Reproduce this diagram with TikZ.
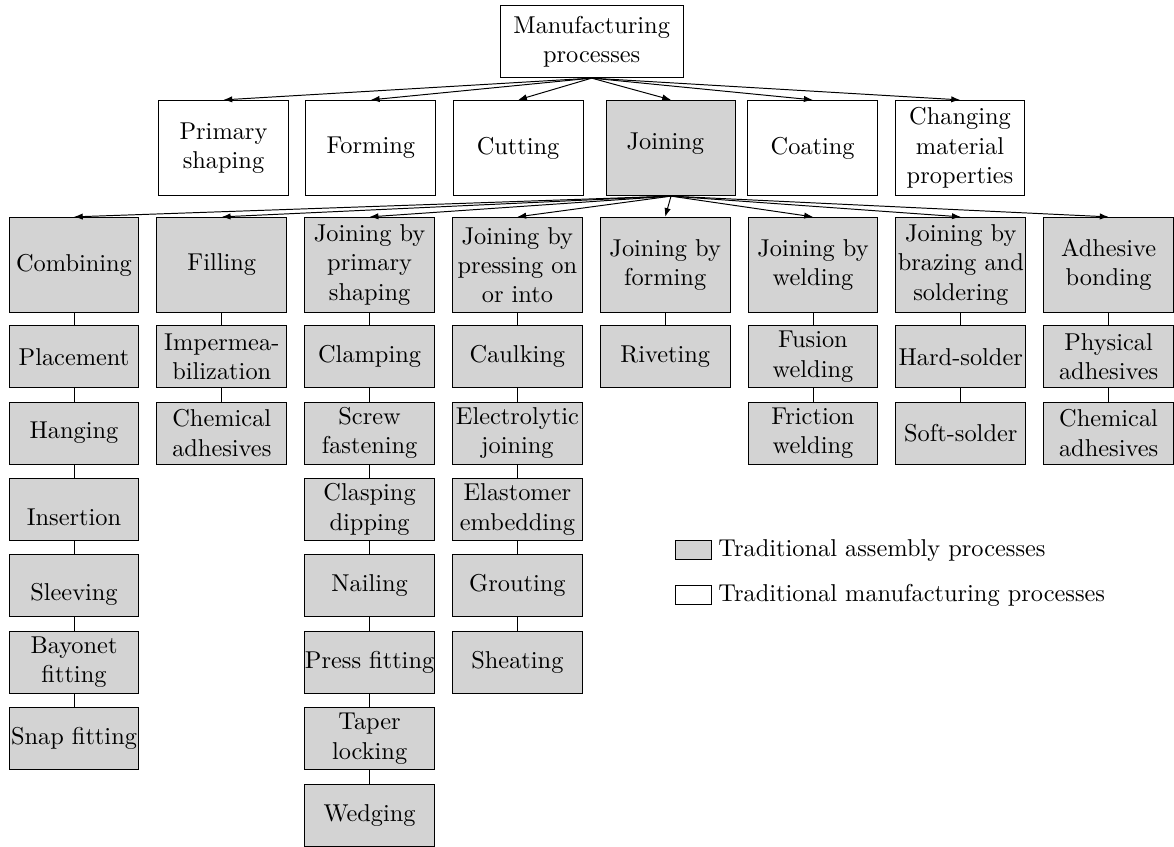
\documentclass[tikz,border=0pt]{standalone}
\usetikzlibrary{arrows.meta}
\definecolor{boxgray}{RGB}{211,211,211}
\begin{document}
\begin{tikzpicture}[x=0.4103pt, y=-0.4103pt,
  proc/.style={draw, align=center, inner sep=0pt, minimum width=53.3pt},
  tall/.style={proc, minimum height=39.1pt},
  short/.style={proc, minimum height=25.4pt},
  asm/.style={fill=boxgray},
  link/.style={-{Latex[length=3.6pt,width=2.6pt]}},
  keybox/.style={draw, inner sep=0pt, minimum width=14.4pt, minimum height=7.4pt},
  keytext/.style={anchor=base west, inner sep=0pt}]
\useasboundingbox (0,0) rectangle (1174,847);

% root
\node[draw, align=center, inner sep=0pt, minimum width=75.1pt, minimum height=29.5pt]
  (root) at (591.7,41.7) {Manufacturing\\processes};

% main process groups
\node[tall] (prim) at (223.5,148) {Primary\\shaping};
\node[tall] (form) at (370.8,148) {Forming};
\node[tall] (cut)  at (518.1,148) {Cutting};
\node[tall, asm] (join) at (671,148) {\raisebox{1.9pt}[\height][\depth]{Joining}\kern4.6pt};
\node[tall] (coat) at (812.7,148) {Coating};
\node[tall] (chg)  at (960,148) {Changing\\material\\properties};

\foreach \n in {prim,form,cut,join,coat,chg}
  \draw[link] (root.south) -- (\n.north);

% joining sub-groups
\node[tall, asm] (comb) at (74,265)    {Combining};
\node[tall, asm] (fill) at (221.8,265) {Filling};
\node[tall, asm] (jps)  at (369.6,265) {Joining by\\primary\\shaping};
\node[tall, asm] (jpo)  at (517.4,265) {Joining by\\pressing on\\or into};
\node[tall, asm] (jfo)  at (665.2,265) {Joining by\\forming};
\node[tall, asm] (jwe)  at (813,265)   {Joining by\\welding};
\node[tall, asm] (jbs)  at (960.8,265) {Joining by\\brazing and\\soldering};
\node[tall, asm] (adh)  at (1108.6,265){Adhesive\\bonding};

\foreach \n in {comb,fill,jps,jpo,jfo,jwe,jbs,adh}
  \draw[link] (join.south) -- (\n.north);

% column: combining
\node[short, asm] (c1) at (74,356.7) {Placement};
\node[short, asm] (c2) at (74,433.1) {Hanging};
\node[short, asm] (c3) at (74,509.5) {\raisebox{-3.4pt}[\height][\depth]{Insertion}};
\node[short, asm] (c4) at (74,585.9) {\raisebox{-3.4pt}[\height][\depth]{Sleeving}};
\node[short, asm] (c5) at (74,662.3) {Bayonet\\fitting};
\node[short, asm] (c6) at (74,738.7) {Snap fitting};
\draw (comb.south) -- (c1.north) (c1.south) -- (c2.north) (c2.south) -- (c3.north)
      (c3.south) -- (c4.north) (c4.south) -- (c5.north) (c5.south) -- (c6.north);

% column: filling
\node[short, asm] (f1) at (221.8,356.7) {Impermea-\\bilization};
\node[short, asm] (f2) at (221.8,433.1) {Chemical\\adhesives};
\draw (fill.south) -- (f1.north) (f1.south) -- (f2.north);

% column: joining by primary shaping
\node[short, asm] (p1) at (369.6,356.7) {Clamping};
\node[short, asm] (p2) at (369.6,433.1) {Screw\\fastening};
\node[short, asm] (p3) at (369.6,509.5) {Clasping\\dipping};
\node[short, asm] (p4) at (369.6,585.9) {Nailing};
\node[short, asm] (p5) at (369.6,662.3) {Press fitting};
\node[short, asm] (p6) at (369.6,738.7) {Taper\\locking};
\node[short, asm] (p7) at (369.6,815.1) {Wedging};
\draw (jps.south) -- (p1.north) (p1.south) -- (p2.north) (p2.south) -- (p3.north)
      (p3.south) -- (p4.north) (p4.south) -- (p5.north) (p5.south) -- (p6.north)
      (p6.south) -- (p7.north);

% column: joining by pressing on or into
\node[short, asm] (o1) at (517.4,356.7) {Caulking};
\node[short, asm] (o2) at (517.4,433.1) {Electrolytic\\joining};
\node[short, asm] (o3) at (517.4,509.5) {Elastomer\\embedding};
\node[short, asm] (o4) at (517.4,585.9) {Grouting};
\node[short, asm] (o5) at (517.4,662.3) {Sheating};
\draw (jpo.south) -- (o1.north) (o1.south) -- (o2.north) (o2.south) -- (o3.north)
      (o3.south) -- (o4.north) (o4.south) -- (o5.north);

% column: joining by forming
\node[short, asm] (r1) at (665.2,356.7) {Riveting};
\draw (jfo.south) -- (r1.north);

% column: joining by welding
\node[short, asm] (w1) at (813,356.7) {Fusion\\welding};
\node[short, asm] (w2) at (813,433.1) {Friction\\welding};
\draw (jwe.south) -- (w1.north) (w1.south) -- (w2.north);

% column: brazing and soldering
\node[short, asm] (b1) at (960.8,356.7) {Hard-solder};
\node[short, asm] (b2) at (960.8,433.1) {Soft-solder};
\draw (jbs.south) -- (b1.north) (b1.south) -- (b2.north);

% column: adhesive bonding
\node[short, asm] (a1) at (1108.6,356.7) {Physical\\adhesives};
\node[short, asm] (a2) at (1108.6,433.1) {Chemical\\adhesives};
\draw (adh.south) -- (a1.north) (a1.south) -- (a2.north);

% legend
\node[keybox, fill=boxgray] (keyA) at (693.5,550) {};
\node[keytext] (keyAtext) at (718,556) {Traditional assembly processes};
\node[keybox] (keyB) at (693.5,595) {};
\node[keytext] (keyBtext) at (718,601) {Traditional manufacturing processes};
\end{tikzpicture}
\end{document}
